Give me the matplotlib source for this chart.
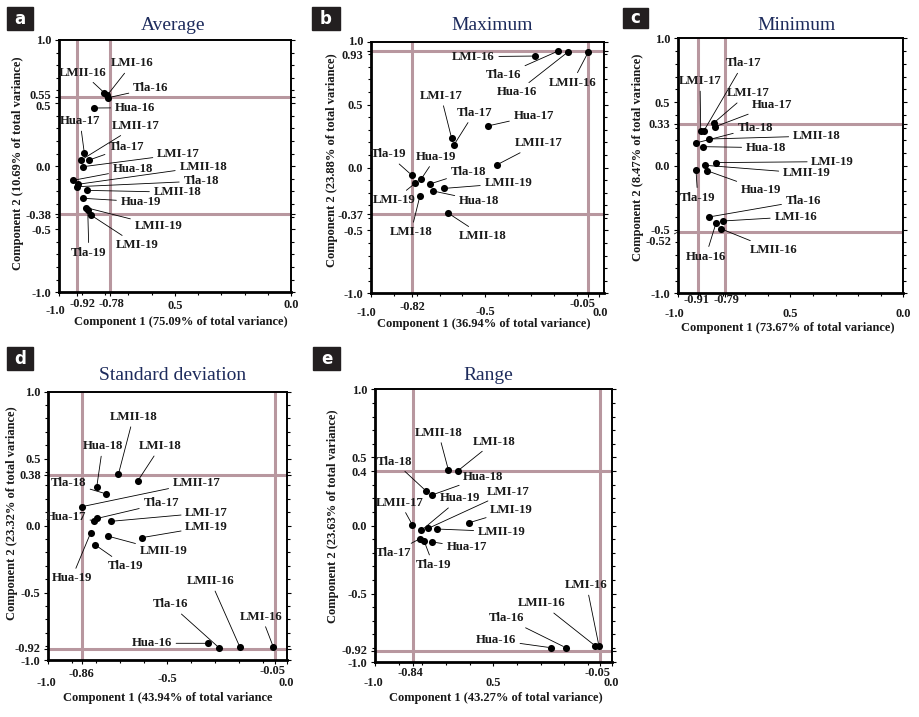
import matplotlib
matplotlib.use("Agg")
import matplotlib.pyplot as plt
import matplotlib.transforms as mtransforms
from matplotlib.ticker import MultipleLocator
from matplotlib.patches import Rectangle

# ---------------- data ----------------
# (a) Average
a_names = ["LMI-16", "LMII-16", "Tla-16", "Hua-16", "Hua-17", "LMII-17", "Tla-17", "LMI-17",
           "Hua-18", "LMII-18", "Tla-18", "LMII-18", "Hua-19", "LMII-19", "LMI-19", "Tla-19"]
a_pc1 = [-0.791, -0.804, -0.786, -0.847, -0.890, -0.903, -0.868, -0.894,
         -0.937, -0.918, -0.921, -0.877, -0.894, -0.882, -0.862, -0.875]
a_pc2 = [0.562, 0.582, 0.543, 0.461, 0.107, 0.049, 0.049, -0.004,
         -0.112, -0.144, -0.163, -0.192, -0.255, -0.329, -0.387, -0.348]
a_vref = [-0.92, -0.78]
a_href = [0.55, -0.38]
a_xticks = [-1.0, -0.92, -0.78, -0.5, 0.0]
a_xticklabels = ["-1.0", "-0.92", "-0.78", "0.5", "0.0"]
a_yticks = [-1.0, -0.5, -0.38, 0.0, 0.5, 0.55, 1.0]
a_yticklabels = ["-1.0", "-0.5", "-0.38", "0.0", "0.5", "0.55", "1.0"]

# (b) Maximum
b_names = ["LMI-16", "Tla-16", "Hua-16", "LMII-16", "Hua-17", "LMI-17", "Tla-17", "LMII-17",
           "Tla-19", "Hua-19", "LMI-19", "Tla-18", "LMII-19", "Hua-18", "LMI-18", "LMII-18"]
b_pc1 = [-0.282, -0.183, -0.136, -0.048, -0.489, -0.647, -0.638, -0.450,
         -0.822, -0.780, -0.807, -0.742, -0.679, -0.728, -0.786, -0.661]
b_pc2 = [0.886, 0.924, 0.921, 0.921, 0.330, 0.232, 0.176, 0.020,
         -0.060, -0.091, -0.126, -0.131, -0.166, -0.187, -0.227, -0.364]
b_vref = [-0.82, -0.05]
b_href = [0.93, -0.37]
b_xticks = [-1.0, -0.82, -0.5, -0.05, 0.0]
b_xticklabels = ["-1.0", "-0.82", "-0.5", "-0.05", "0.0"]
b_yticks = [-1.0, -0.5, -0.37, 0.0, 0.5, 0.93, 1.0]
b_yticklabels = ["-1.0", "-0.5", "-0.37", "0.0", "0.5", "0.93", "1.0"]

# (c) Minimum
c_names = ["Tla-17", "LMI-17", "LMI-17", "Hua-17", "Tla-18", "LMII-18", "Hua-18", "LMI-19",
           "LMII-19", "Hua-19", "Tla-19", "Tla-16", "LMI-16", "Hua-16", "LMII-16"]
c_pc1 = [-0.885, -0.898, -0.838, -0.833, -0.919, -0.861, -0.886, -0.830,
         -0.879, -0.871, -0.919, -0.860, -0.801, -0.830, -0.807]
c_pc2 = [0.271, 0.271, 0.339, 0.307, 0.179, 0.210, 0.150, 0.025,
         0.004, -0.038, -0.033, -0.401, -0.433, -0.448, -0.495]
c_vref = [-0.91, -0.79]
c_href = [0.33, -0.52]
c_xticks = [-1.0, -0.91, -0.79, -0.5, 0.0]
c_xticklabels = ["-1.0", "-0.91", "-0.79", "0.5", "0.0"]
c_yticks = [-1.0, -0.5, 0.0, 0.33, 0.5, 1.0]
c_yticklabels = ["-1.0", "-0.5", "0.0", "0.33", "0.5", "1.0"]
c_extra_ytick = -0.52
c_extra_yticklabel = "-0.52"

# (d) Standard deviation
d_names = ["LMII-18", "LMI-18", "Hua-18", "Tla-18", "LMII-17", "Hua-17", "Tla-17", "LMI-17",
           "Hua-19", "LMII-19", "LMI-19", "Tla-19", "Hua-16", "Tla-16", "LMII-16", "LMI-16"]
d_pc1 = [-0.706, -0.625, -0.797, -0.759, -0.860, -0.807, -0.794, -0.737,
         -0.822, -0.751, -0.608, -0.804, -0.331, -0.284, -0.196, -0.056]
d_pc2 = [0.383, 0.333, 0.286, 0.238, 0.141, 0.037, 0.054, 0.032,
         -0.053, -0.078, -0.090, -0.143, -0.879, -0.912, -0.909, -0.907]
d_vref = [-0.86, -0.05]
d_href = [0.38, -0.92]
d_xticks = [-1.0, -0.86, -0.5, -0.05, 0.0]
d_xticklabels = ["-1.0", "-0.86", "-0.5", "-0.05", "0.0"]
d_yticks = [-1.0, -0.92, -0.5, 0.0, 0.38, 0.5, 1.0]
d_yticklabels = ["-1.0", "-0.92", "-0.5", "0.0", "0.38", "0.5", "1.0"]

# (e) Range
e_names = ["LMII-18", "LMI-18", "Tla-18", "Hua-18", "LMII-17", "Hua-19", "LMI-17", "LMII-19",
           "LMI-19", "Tla-17", "Tla-19", "Hua-17", "Hua-16", "Tla-16", "LMII-16", "LMI-16"]
e_pc1 = [-0.690, -0.651, -0.786, -0.759, -0.842, -0.804, -0.775, -0.737,
         -0.601, -0.810, -0.792, -0.758, -0.258, -0.194, -0.070, -0.054]
e_pc2 = [0.408, 0.400, 0.256, 0.224, 0.004, -0.036, -0.021, -0.026,
         0.021, -0.097, -0.116, -0.121, -0.897, -0.897, -0.883, -0.883]
e_vref = [-0.84, -0.05]
e_href = [0.40, -0.92]
e_xticks = [-1.0, -0.84, -0.5, -0.05, 0.0]
e_xticklabels = ["-1.0", "-0.84", "0.5", "-0.05", "0.0"]
e_yticks = [-1.0, -0.92, -0.5, 0.0, 0.4, 0.5, 1.0]
e_yticklabels = ["-1.0", "-0.92", "-0.5", "0.0", "0.4", "0.5", "1.0"]

titles = ["Average", "Maximum", "Minimum", "Standard deviation", "Range"]
letters = ["a", "b", "c", "d", "e"]
xlabels = ["Component 1 (75.09% of total variance)",
           "Component 1 (36.94% of total variance)",
           "Component 1 (73.67% of total variance)",
           "Component 1 (43.94% of total variance",
           "Component 1 (43.27% of total variance)"]
ylabels = ["Component 2 (10.69% of total variance)",
           "Component 2 (23.88% of total variance)",
           "Component 2 (8.47% of total variance)",
           "Component 2 (23.32% of total variance)",
           "Component 2 (23.63% of total variance)"]

# ---------------- layout (label placement, pixels, pads) ----------------
a_text = [(-0.683, 0.815), (-0.897, 0.741), (-0.604, 0.617), (-0.672, 0.463), (-0.908, 0.358),
          (-0.667, 0.318), (-0.707, 0.154), (-0.485, 0.094), (-0.681, -0.023), (-0.378, -0.004),
          (-0.387, -0.118), (-0.489, -0.207), (-0.647, -0.282), (-0.571, -0.474), (-0.664, -0.625),
          (-0.870, -0.686)]
b_text = [(-0.552, 0.881), (-0.418, 0.735), (-0.3625, 0.598), (-0.119, 0.674), (-0.288, 0.412),
          (-0.694, 0.571), (-0.548, 0.436), (-0.268, 0.192), (-0.9245, 0.105), (-0.715, 0.086),
          (-0.898, -0.258), (-0.574, -0.033), (-0.399, -0.126), (-0.527, -0.264), (-0.825, -0.515),
          (-0.509, -0.545)]
c_text = [(-0.709, 0.804), (-0.901, 0.665), (-0.687, 0.569), (-0.580, 0.477), (-0.657, 0.299),
          (-0.384, 0.234), (-0.609, 0.142), (-0.313, 0.033), (-0.428, -0.059), (-0.631, -0.190),
          (-0.911, -0.250), (-0.443, -0.273), (-0.477, -0.399), (-0.876, -0.712), (-0.576, -0.660)]
d_text = [(-0.643, 0.813), (-0.529, 0.594), (-0.772, 0.594), (-0.916, 0.320), (-0.378, 0.320),
          (-0.927, 0.067), (-0.527, 0.166), (-0.336, 0.096), (-0.902, -0.394), (-0.517, -0.190),
          (-0.336, -0.008), (-0.676, -0.302), (-0.566, -0.879), (-0.487, -0.588), (-0.319, -0.414),
          (-0.105, -0.680)]
e_text = [(-0.732, 0.682), (-0.496, 0.616), (-0.918, 0.469), (-0.542, 0.359), (-0.894, 0.168),
          (-0.641, 0.200), (-0.437, 0.249), (-0.465, -0.045), (-0.423, 0.114), (-0.923, -0.200),
          (-0.754, -0.290), (-0.613, -0.160), (-0.490, -0.841), (-0.444, -0.682), (-0.296, -0.572),
          (-0.106, -0.437)]

W, H = 920, 717
SERIF = "Liberation Serif"
REF_COLOR = "#b8979f"
TXT = "#1a1a1a"
TITLE_COLOR = "#1d2b5c"
FS_PT = 9.2     # point labels
FS_TICK = 8.9   # tick labels
FS_AX = 9.0     # axis labels

fig = plt.figure(figsize=(W / 100, H / 100), dpi=100)


def fx(px):
    return px / W


def fy(py):
    return 1 - py / H


def shift(label, dx_px, dy_px):
    label.set_transform(label.get_transform() + mtransforms.ScaledTranslation(
        dx_px / 100, -dy_px / 100, fig.dpi_scale_trans))


def draw_panel(rect, xlim, names, pc1, pc2, text_xy, vref, href, xticks, xticklabels, xpads, xdx,
               yticks, yticklabels, ydy, title, title_xy, letter, letter_box, xlabel, xlabel_xy,
               ylabel, ylabel_xy):
    l, t, r, b = rect
    ax = fig.add_axes([fx(l), fy(b), (r - l) / W, (b - t) / H])
    ax.set_xlim(*xlim)
    ax.set_ylim(-1, 1)
    for v in vref:
        ax.axvline(v, color=REF_COLOR, lw=2.2, zorder=1)
    for h in href:
        ax.axhline(h, color=REF_COLOR, lw=2.2, zorder=1)
    ax.scatter(pc1, pc2, s=26, color="black", zorder=4, linewidths=0)
    for n, x, y, (tx, ty) in zip(names, pc1, pc2, text_xy):
        ax.annotate(n, xy=(x, y), xytext=(tx, ty), ha="center", va="center",
                    fontfamily=SERIF, fontweight="bold", fontsize=FS_PT, color=TXT,
                    arrowprops=dict(arrowstyle="-", color="black", lw=0.6,
                                    shrinkA=1, shrinkB=2),
                    zorder=5)
    ax.set_xticks(xticks, xticklabels)
    ax.set_yticks(yticks, yticklabels)
    ax.xaxis.set_minor_locator(MultipleLocator(0.1))
    ax.yaxis.set_minor_locator(MultipleLocator(0.1))
    ax.tick_params(which="both", direction="out", right=True, top=False,
                   labelsize=FS_TICK, colors="black", labelcolor=TXT, width=0.8)
    ax.tick_params(which="major", length=3)
    ax.tick_params(which="minor", length=2)
    ax.tick_params(axis="y", pad=2.5)
    for lab in ax.get_xticklabels() + ax.get_yticklabels():
        lab.set_fontfamily(SERIF)
        lab.set_fontweight("bold")
    for tk, p, dx in zip(ax.xaxis.get_major_ticks(), xpads, xdx):
        tk.set_pad(p)
        if dx:
            shift(tk.label1, dx, 0)
    for tk, dy in zip(ax.yaxis.get_major_ticks(), ydy):
        if dy:
            shift(tk.label1, 0, dy)
    for side in ["left", "bottom"]:
        ax.spines[side].set_linewidth(2.0)
    for side in ["right", "top"]:
        ax.spines[side].set_linewidth(1.4)
    # title
    fig.text(fx(title_xy[0]), fy(title_xy[1]), title, ha="center", va="center",
             fontfamily=SERIF, fontsize=14, color=TITLE_COLOR)
    # letter box
    bl, bt, br, bb = letter_box
    fig.add_artist(Rectangle((fx(bl), fy(bb)), (br - bl) / W, (bb - bt) / H,
                             transform=fig.transFigure, color="#231f20", zorder=10))
    fig.text(fx((bl + br) / 2), fy((bt + bb) / 2), letter, ha="center", va="center",
             fontfamily="DejaVu Sans", fontweight="bold", fontsize=12, color="white",
             zorder=11)
    # axis labels
    fig.text(fx(xlabel_xy[0]), fy(xlabel_xy[1]), xlabel, ha="center", va="center",
             fontfamily=SERIF, fontweight="bold", fontsize=FS_AX, color=TXT)
    fig.text(fx(ylabel_xy[0]), fy(ylabel_xy[1]), ylabel, ha="center", va="center",
             rotation=90, fontfamily=SERIF, fontweight="bold", fontsize=FS_AX, color=TXT)
    return ax


axa = draw_panel((58.7, 40, 291, 292.3), (-1, 0), a_names, a_pc1, a_pc2, a_text, a_vref, a_href,
                 a_xticks, a_xticklabels, [6.1, 0.9, 0.9, 2.5, 1.8], [-3, 5, 2, 0, 0],
                 a_yticks, a_yticklabels, [0, 0, 0, 0, 2.5, -2, 0],
                 titles[0], (173, 25), letters[0], (7, 7, 33, 30), xlabels[0], (180.5, 321.7),
                 ylabels[0], (18.3, 163))

axb = draw_panel((371, 41.7, 604, 293.3), (-1, 0.02), b_names, b_pc1, b_pc2, b_text, b_vref, b_href,
                 b_xticks, b_xticklabels, [6.6, 2.3, 6.0, 0.6, 7.0], [-5, 0, 0, -6, 1],
                 b_yticks, b_yticklabels, [0, 0, 0, 0, 0, 3.5, -1],
                 titles[1], (492, 25), letters[1], (312, 7, 340, 30), xlabels[1], (484, 324.5),
                 ylabels[1], (331.7, 160))

axc = draw_panel((677.7, 38.3, 903.3, 293.3), (-1, 0), c_names, c_pc1, c_pc2, c_text, c_vref, c_href,
                 c_xticks, c_xticklabels, [7.8, -2.5, -2.5, 7.8, 7.8], [-3, -2, 1, 0, 0],
                 c_yticks, c_yticklabels, [0, 0, 0, 0, 0, 0],
                 titles[2], (797, 25), letters[2], (623, 8, 648, 28), xlabels[2], (788, 328.3),
                 ylabels[2], (638.3, 157))
axc.annotate(c_extra_yticklabel, xy=(0, c_extra_ytick), xycoords=("axes fraction", "data"),
             xytext=(-0.085, -0.6), textcoords=("axes fraction", "data"),
             ha="center", va="center", fontfamily=SERIF, fontweight="bold", fontsize=FS_TICK,
             color=TXT, annotation_clip=False,
             arrowprops=dict(arrowstyle="-", color="black", lw=0.5, shrinkA=0, shrinkB=0))

axd = draw_panel((48.3, 391.7, 286.7, 659.5), (-1, 0), d_names, d_pc1, d_pc2, d_text, d_vref, d_href,
                 d_xticks, d_xticklabels, [9.4, 3.1, 6.7, 1.0, 9.4], [-2, 0, 0, -2, 0],
                 d_yticks, d_yticklabels, [1, -1, 0, 0, 0, 0, 0],
                 titles[3], (173, 375), letters[3], (7, 347, 33, 370), xlabels[3], (168, 698.5),
                 ylabels[3], (11.7, 513))

axe = draw_panel((375, 389.3, 611.7, 661.7), (-1, 0), e_names, e_pc1, e_pc2, e_text, e_vref, e_href,
                 e_xticks, e_xticklabels, [7.8, 0.6, 7.8, 0.6, 7.8], [-2, -2, 0, -2, 0],
                 e_yticks, e_yticklabels, [1, -1, 0, 0, 0, 0, 0],
                 titles[4], (488, 375), letters[4], (313, 347, 340, 370), xlabels[4], (496, 698.0),
                 ylabels[4], (333.3, 516.7))

fig.savefig("out.png", dpi=100)
